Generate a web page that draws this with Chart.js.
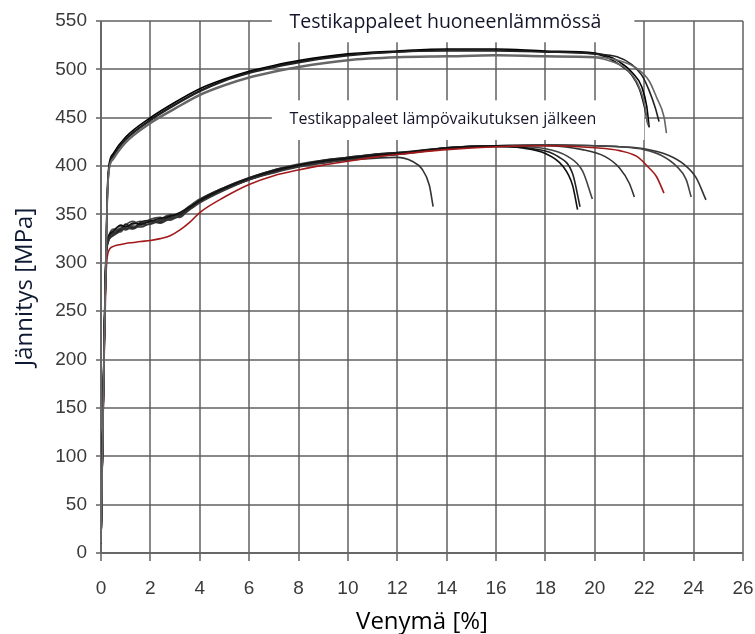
<!DOCTYPE html>
<html>
<head>
<meta charset="utf-8">
<script src="https://cdn.jsdelivr.net/npm/chart.js@4.4.1/dist/chart.umd.min.js"></script>
<style>
  html, body { margin: 0; padding: 0; background: #fff; }
</style>
</head>
<body>
<canvas id="myChart" width="755" height="634"></canvas>
<script>
// axis ticks
const strainTicks = [0, 2, 4, 6, 8, 10, 12, 14, 16, 18, 20, 22, 24, 26];
const stressTicks = [0, 50, 100, 150, 200, 250, 300, 350, 400, 450, 500, 550];

// room temperature specimens (Testikappaleet huoneenlämmössä)
const upperStrain = [0, 0.15, 0.25, 0.32, 0.5, 1, 2, 3, 4, 5, 6, 7, 8, 10, 12, 14, 16, 18, 20];
const u1Stress = [10, 250, 370, 400, 413, 430, 450, 466, 480, 490, 498, 504, 509, 516, 519, 521, 521, 519, 517];
const u1TailStrain = [20.7, 21.2, 21.5, 21.9, 22.1, 22.2];
const u1TailStress = [512, 504, 497, 482, 462, 440];
const u2Stress = [10, 245, 365, 398, 411, 428, 448, 464, 478, 489, 497, 503, 508, 515, 518, 520, 520, 518, 516];
const u2TailStrain = [20.6, 21.1, 21.5, 21.8, 22.0, 22.15];
const u2TailStress = [511, 503, 494, 480, 462, 443];
const u3Stress = [10, 240, 362, 396, 410, 427, 447, 463, 477, 488, 496, 502, 507, 514, 518, 519, 519, 518, 516];
const u3TailStrain = [20.9, 21.5, 21.9, 22.2, 22.45, 22.6];
const u3TailStress = [513, 505, 494, 478, 460, 446];
const u4Stress = [10, 240, 360, 395, 408, 425, 445, 460, 474, 484, 492, 498, 503, 510, 513, 514, 515, 514, 513];
const u4TailStrain = [21.0, 21.7, 22.2, 22.5, 22.8, 22.9];
const u4TailStress = [509, 501, 488, 471, 451, 434];
const u5Stress = [10, 240, 360, 394, 407, 424, 444, 459, 473, 483, 491, 497, 502, 509, 512, 513, 514, 513, 512];
const u5TailStrain = [20.8, 21.3, 21.7, 22.0, 22.15];
const u5TailStress = [507, 500, 487, 466, 442];

// heat affected specimens (Testikappaleet lämpövaikutuksen jälkeen)
const lowerStrain = [0, 0.12, 0.2, 0.28, 0.5, 0.8, 1.0, 1.3, 1.6, 2.0, 2.4, 2.8, 3.2, 3.6, 4, 5, 6, 7, 8, 9, 10, 11, 12];
const l1Stress = [10, 200, 300, 322, 330, 336, 334, 338, 337, 341, 343, 345, 348, 355, 362, 375, 386, 393, 399, 403, 406, 408, 409];
const l1TailStrain = [12.6, 13.0, 13.3, 13.45];
const l1TailStress = [405, 397, 380, 358];
const l2Stress = [10, 205, 305, 325, 333, 339, 337, 341, 340, 343, 346, 348, 352, 358, 364, 377, 387, 395, 401, 405, 408, 411, 413];
const l2TailStrain = [14, 16, 17, 18, 18.7, 19.1, 19.3];
const l2TailStress = [419, 421, 419, 413, 400, 380, 355];
const l3Stress = [10, 202, 302, 326, 331, 334, 340, 336, 342, 344, 342, 349, 350, 357, 365, 378, 388, 396, 401, 406, 409, 412, 414];
const l3TailStrain = [14, 16, 17.5, 18.5, 19.1, 19.4];
const l3TailStress = [418, 420, 418, 410, 392, 358];
const l4Stress = [10, 208, 306, 324, 335, 332, 339, 343, 339, 345, 347, 344, 351, 359, 366, 378, 388, 396, 402, 406, 409, 412, 414];
const l4TailStrain = [14, 16, 18, 18.9, 19.5, 19.9];
const l4TailStress = [419, 421, 418, 410, 395, 366];
const l5Stress = [10, 204, 303, 321, 328, 333, 336, 335, 339, 340, 344, 347, 349, 356, 363, 376, 386, 394, 400, 404, 407, 410, 412];
const l5TailStrain = [14, 16, 18, 19.5, 20.4, 21.0, 21.4, 21.6];
const l5TailStress = [418, 421, 421, 417, 410, 398, 382, 368];
const l6Stress = [10, 206, 304, 323, 332, 338, 335, 340, 343, 342, 345, 350, 347, 357, 364, 377, 387, 395, 401, 405, 408, 411, 413];
const l6TailStrain = [14, 16, 18, 20, 21, 22, 22.7, 23.3, 23.7, 23.9];
const l6TailStress = [419, 421, 422, 421, 420, 417, 411, 400, 386, 368];
const l7Stress = [10, 203, 301, 320, 329, 335, 338, 336, 341, 343, 341, 346, 350, 356, 363, 376, 386, 394, 400, 404, 407, 410, 412];
const l7TailStrain = [14, 16, 18, 20, 21, 22, 23, 23.6, 24.1, 24.5];
const l7TailStress = [419, 421, 422, 421, 420, 418, 411, 402, 388, 365];
const redStress = [10, 190, 285, 310, 317, 319, 320, 321, 322, 323, 325, 328, 334, 342, 352, 368, 381, 390, 396, 401, 405, 409, 412];
const redTailStrain = [14, 16, 18, 20, 21, 21.7, 22.2, 22.5, 22.8];
const redTailStress = [417, 420, 421, 419, 416, 410, 398, 389, 372];

const toPoints = (xs, ys) => xs.map((x, i) => ({ x: x, y: ys[i] }));
const curve = (bodyX, bodyY, tailX, tailY) => toPoints(bodyX, bodyY).concat(toPoints(tailX, tailY));

const line = (data, color) => ({
    data: data,
    showLine: true,
    borderColor: color,
    borderWidth: 1.6,
    pointRadius: 0,
    fill: false,
    cubicInterpolationMode: 'monotone'
});

const notes = {
    id: 'notes',
    beforeDatasetsDraw(chart) {
        const c = chart.ctx;
        const xs = chart.scales.x;
        const ys = chart.scales.y;
        c.save();
        c.fillStyle = '#fff';
        // white label boxes over the grid
        let x1 = xs.getPixelForValue(7.0), x2 = xs.getPixelForValue(21.6);
        c.fillRect(x1 - 2, 0, x2 - x1 + 2, ys.getPixelForValue(528));
        x2 = xs.getPixelForValue(22.0);
        let yt = ys.getPixelForValue(468), yb = ys.getPixelForValue(427);
        c.fillRect(x1 - 2, yt, x2 - x1 + 2, yb - yt);

        c.fillStyle = '#15152a';
        c.textAlign = 'center';
        c.textBaseline = 'middle';
        c.font = '19.5px "Open Sans"';
        c.fillText('Testikappaleet huoneenlämmössä', xs.getPixelForValue(13.95), ys.getPixelForValue(549), 312);
        c.font = '16px "Open Sans"';
        c.fillText('Testikappaleet lämpövaikutuksen jälkeen', xs.getPixelForValue(13.85), ys.getPixelForValue(448), 312);
        c.restore();
    }
};

const gridColor = 'rgba(90, 90, 90, 0.72)';
const tickFont = { family: '"Liberation Sans Narrow", "Liberation Sans", Arial', size: 19 };

const myChart = new Chart(document.getElementById('myChart'), {
    type: 'scatter',
    data: {
        datasets: [
            line(curve(upperStrain, u4Stress, u4TailStrain, u4TailStress), '#666'),
            line(curve(upperStrain, u5Stress, u5TailStrain, u5TailStress), '#666'),
            line(curve(upperStrain, u3Stress, u3TailStrain, u3TailStress), '#222'),
            line(curve(upperStrain, u2Stress, u2TailStrain, u2TailStress), '#111'),
            line(curve(upperStrain, u1Stress, u1TailStrain, u1TailStress), '#000'),
            line(curve(lowerStrain, redStress, redTailStrain, redTailStress), '#a3191b'),
            line(curve(lowerStrain, l1Stress, l1TailStrain, l1TailStress), '#333'),
            line(curve(lowerStrain, l2Stress, l2TailStrain, l2TailStress), '#111'),
            line(curve(lowerStrain, l3Stress, l3TailStrain, l3TailStress), '#222'),
            line(curve(lowerStrain, l4Stress, l4TailStrain, l4TailStress), '#444'),
            line(curve(lowerStrain, l5Stress, l5TailStrain, l5TailStress), '#333'),
            line(curve(lowerStrain, l6Stress, l6TailStrain, l6TailStress), '#444'),
            line(curve(lowerStrain, l7Stress, l7TailStrain, l7TailStress), '#333')
        ]
    },
    options: {
        responsive: false,
        animation: false,
        layout: { padding: { top: 21, right: 12, left: 0, bottom: 0 } },
        plugins: { legend: { display: false }, tooltip: { enabled: false } },
        scales: {
            x: {
                type: 'linear',
                min: 0,
                max: 26,
                afterBuildTicks: (s) => { s.ticks = strainTicks.map(v => ({ value: v })); },
                afterFit: (s) => { s.height = 81; s.paddingLeft = 0; s.paddingRight = 0; },
                grid: { color: gridColor, lineWidth: 2, tickLength: 8 },
                border: { color: gridColor, width: 2 },
                ticks: { color: '#3a3a3a', font: tickFont, padding: 16, maxRotation: 0 },
                title: {
                    display: true,
                    text: 'Venymä [%]',
                    color: '#000',
                    font: { family: '"Open Sans"', size: 24, lineHeight: 1 },
                    padding: { top: 0, bottom: 0 }
                }
            },
            y: {
                type: 'linear',
                min: 0,
                max: 550,
                afterBuildTicks: (s) => { s.ticks = stressTicks.map(v => ({ value: v })); },
                afterFit: (s) => { s.width = 101; s.paddingTop = 0; s.paddingBottom = 0; },
                grid: { color: gridColor, lineWidth: 2, tickLength: 5 },
                border: { color: gridColor, width: 2 },
                ticks: { color: '#3a3a3a', font: tickFont, padding: 9 },
                title: {
                    display: true,
                    text: 'Jännitys [MPa]',
                    color: '#0f1a33',
                    font: { family: '"Open Sans"', size: 24, lineHeight: 1 },
                    padding: { top: 13, bottom: 0 }
                }
            }
        }
    },
    plugins: [notes]
});
</script>
</body>
</html>
